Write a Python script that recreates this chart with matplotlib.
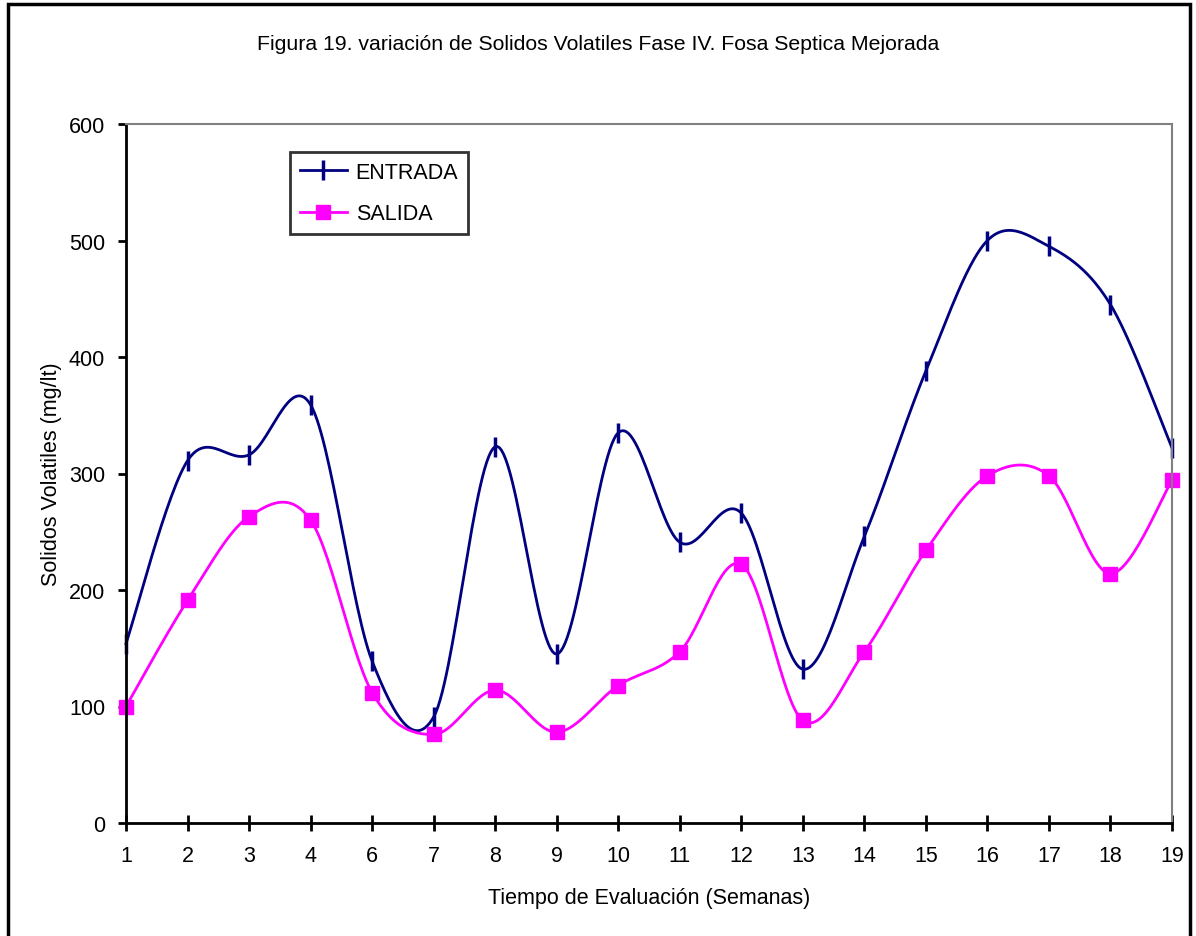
import matplotlib.pyplot as plt
import numpy as np
from matplotlib.patches import Rectangle

plt.rcParams['font.family'] = ['Liberation Sans', 'DejaVu Sans']

semanas = ['1', '2', '3', '4', '6', '7', '8', '9', '10', '11', '12', '13',
           '14', '15', '16', '17', '18', '19']
entrada = [154, 311, 316, 359, 139, 91, 323, 145, 335, 241, 266, 132,
           246, 388, 500, 495, 445, 322]
salida = [100, 191, 263, 260, 112, 76, 114, 78, 118, 147, 222, 88,
          147, 234, 298, 298, 214, 294]


def suavizar(x, y, n=30):
    # curva bezier tipo "linea suavizada" entre puntos consecutivos
    x = np.asarray(x, float)
    y = np.asarray(y, float)
    px, py = [x[0]], [y[0]]
    t = np.linspace(0, 1, n)[1:]
    for i in range(len(x) - 1):
        x0, y0 = x[max(i - 1, 0)], y[max(i - 1, 0)]
        x3, y3 = x[min(i + 2, len(x) - 1)], y[min(i + 2, len(x) - 1)]
        c1x = x[i] + (x[i + 1] - x0) / 6
        c1y = y[i] + (y[i + 1] - y0) / 6
        c2x = x[i + 1] - (x3 - x[i]) / 6
        c2y = y[i + 1] - (y3 - y[i]) / 6
        bx = ((1 - t) ** 3 * x[i] + 3 * (1 - t) ** 2 * t * c1x
              + 3 * (1 - t) * t ** 2 * c2x + t ** 3 * x[i + 1])
        by = ((1 - t) ** 3 * y[i] + 3 * (1 - t) ** 2 * t * c1y
              + 3 * (1 - t) * t ** 2 * c2y + t ** 3 * y[i + 1])
        px.extend(bx)
        py.extend(by)
    return np.array(px), np.array(py)


fig = plt.figure(figsize=(11.96, 9.37), dpi=100)
ax = fig.add_axes([126 / 1196, 1 - 824 / 937, (1172 - 126) / 1196, (824 - 125) / 937])

x = np.arange(len(semanas))
azul = '#000080'
rosa = '#ff00ff'

sx, sy = suavizar(x, entrada)
ax.plot(sx, sy, color=azul, lw=2, clip_on=False)
ax.plot(x, entrada, ls='none', marker='|', ms=14, mew=2.5, color=azul, clip_on=False)

sx, sy = suavizar(x, salida)
ax.plot(sx, sy, color=rosa, lw=2, clip_on=False)
ax.plot(x, salida, ls='none', marker='s', ms=10.5, color=rosa, clip_on=False)

# entradas de leyenda
ax.plot([], [], color=azul, lw=2, marker='|', ms=14, mew=2.5, label='ENTRADA')
ax.plot([], [], color=rosa, lw=2, marker='s', ms=10.5, label='SALIDA')

ax.set_xlim(0, len(semanas) - 1)
ax.set_ylim(0, 600)
ax.set_xticks(x)
ax.set_xticklabels(semanas)
ax.set_yticks(range(0, 601, 100))
ax.tick_params(axis='x', direction='inout', length=12, width=2, labelsize=15.5, pad=10)
ax.tick_params(axis='y', direction='out', length=6, width=2, labelsize=15.5, pad=9)

for s in ['left', 'bottom']:
    ax.spines[s].set_linewidth(2)
    ax.spines[s].set_color('black')
for s in ['top', 'right']:
    ax.spines[s].set_linewidth(1.5)
    ax.spines[s].set_color('#808080')

ax.set_xlabel('Tiempo de Evaluación (Semanas)', fontsize=15.5, labelpad=15)
ax.set_ylabel('Solidos Volatiles (mg/lt)', fontsize=15.5, labelpad=5)

fig.text(598 / 1196, 1 - 45 / 937,
         'Figura 19. variación de Solidos Volatiles Fase IV. Fosa Septica Mejorada',
         ha='center', va='center', fontsize=15.3)

leg = ax.legend(loc='upper left', bbox_to_anchor=((290 - 126) / 1046, (824 - 153) / 699),
                fontsize=15.5, frameon=True, fancybox=False, edgecolor='black',
                borderpad=0.45, handlelength=2.2, handletextpad=0.4,
                labelspacing=0.95, borderaxespad=0)
leg.get_frame().set_linewidth(2)

fig.patches.append(Rectangle((8 / 1196, -0.05), (1190 - 8) / 1196, 1 - 5 / 937 + 0.05,
                             transform=fig.transFigure, fill=False,
                             edgecolor='black', linewidth=2.5))

fig.savefig('out.png', dpi=100)
